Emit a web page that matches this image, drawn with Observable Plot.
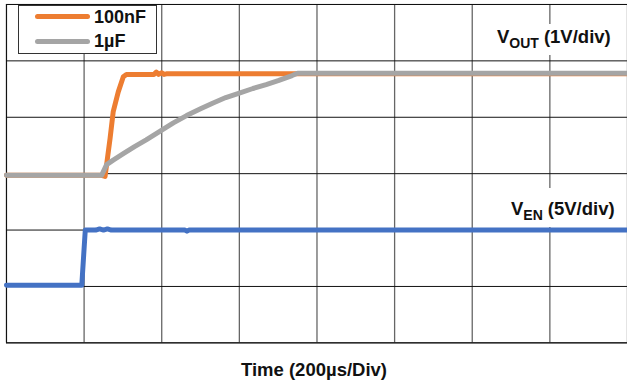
<!DOCTYPE html>
<html>
<head>
<meta charset="utf-8">
<script src="https://cdn.jsdelivr.net/npm/d3@7"></script>
<script src="https://cdn.jsdelivr.net/npm/@observablehq/plot@0.6"></script>
<style>
  html, body { margin: 0; padding: 0; background: #fff; overflow: hidden; }
  #wrap { position: relative; width: 627px; height: 385px; overflow: hidden; font-family: "Liberation Sans", Arial, sans-serif; font-weight: bold; color: #111; }
  #chart svg { display: block; }
  .ov { position: absolute; background: #fff; white-space: nowrap; line-height: 20px; font-size: 18.5px; }
  .sub { position: relative; top: 5px; font-size: 14px; margin-right: 5px; }
  #legend { position: absolute; left: 18px; top: 5px; width: 137px; height: 47px; border: 1px solid #333; background: #fff; }
  .lgline { position: absolute; left: 16px; width: 55px; height: 5px; border-radius: 2.5px; }
  .lgtext { position: absolute; left: 75px; font-size: 18px; line-height: 20px; }
  #xlabel { position: absolute; left: 0; width: 628px; top: 360px; text-align: center; font-size: 18.5px; line-height: 20px; }
</style>
</head>
<body>
<div id="wrap">
  <div id="chart"></div>
  <div id="legend"></div>
  <div class="ov" id="lblOut" style="left:494px; top:24px; height:28px; padding:3px 8px 0 3px;"></div>
  <div class="ov" id="lblEn" style="left:508px; top:188px; height:28px; padding:11px 10px 0 3px;"></div>
  <div id="xlabel"></div>
</div>
<script>
// Time axis: microseconds, 200 µs per division, 8 divisions
const xTicks = [0, 200, 400, 600, 800, 1000, 1200, 1400, 1600];
// Vertical: 6 divisions
const yTicks = [0, 1, 2, 3, 4, 5, 6];

// V_EN (5V/div), position in divisions
const enTime = [0, 194, 203, 230, 240, 250, 260, 270, 460, 465, 470, 1600];
const enDiv  = [1.02, 1.02, 2.0, 2.0, 2.02, 2.0, 2.02, 2.0, 2.0, 1.98, 2.0, 2.0];

// V_OUT with 100nF (1V/div)
const nfTime = [0, 245, 254, 258, 267, 275, 288, 301, 309, 380, 386, 392, 400, 406, 412, 1600];
const nfDiv  = [2.97, 2.97, 2.95, 3.16, 3.63, 4.10, 4.45, 4.72, 4.76, 4.76, 4.80, 4.76, 4.79, 4.76, 4.77, 4.77];

// V_OUT with 1µF (1V/div)
const ufTime = [0, 245, 258, 275, 300, 330, 360, 395, 430, 464, 500, 531, 565, 600, 635, 669, 700, 736, 750, 1600];
const ufDiv  = [2.97, 2.97, 3.16, 3.24, 3.35, 3.48, 3.60, 3.75, 3.90, 4.03, 4.15, 4.25, 4.35, 4.43, 4.51, 4.58, 4.65, 4.74, 4.78, 4.78];

const seriesNames = ["100nF", "1µF"];
const seriesColors = ["#ED7D31", "#A5A5A5"];
const enColor = "#4472C4";
const xTitle = "Time (200µs/Div)";

const toRows = (t, v) => t.map((d, i) => ({t: d, v: v[i]}));

const plot = Plot.plot({
  width: 630,
  height: 385,
  marginLeft: 6,
  marginRight: 0,
  marginTop: 4,
  marginBottom: 41,
  x: {domain: [0, 1600], axis: null},
  y: {domain: [0, 6], axis: null},
  marks: [
    Plot.ruleX(xTicks, {stroke: "#666", strokeWidth: 1.3}),
    Plot.ruleY(yTicks, {stroke: "#111", strokeWidth: 1}),
    Plot.frame({stroke: "#111", strokeWidth: 1}),
    Plot.line(toRows(enTime, enDiv), {x: "t", y: "v", stroke: enColor, strokeWidth: 5}),
    Plot.line(toRows(nfTime, nfDiv), {x: "t", y: "v", stroke: seriesColors[0], strokeWidth: 5}),
    Plot.line(toRows(ufTime, ufDiv), {x: "t", y: "v", stroke: seriesColors[1], strokeWidth: 5})
  ]
});
document.getElementById("chart").appendChild(plot);

// Legend
const legend = document.getElementById("legend");
const lineTops = [8.2, 33.2];
const textTops = [1.2, 24.9];
seriesNames.forEach((name, i) => {
  const l = document.createElement("div");
  l.className = "lgline";
  l.style.top = lineTops[i] + "px";
  l.style.background = seriesColors[i];
  legend.appendChild(l);
  const t = document.createElement("div");
  t.className = "lgtext";
  t.style.top = textTops[i] + "px";
  t.textContent = name;
  legend.appendChild(t);
});

document.getElementById("lblOut").innerHTML = 'V<span class="sub">OUT</span>(1V/div)';
document.getElementById("lblEn").innerHTML = 'V<span class="sub">EN</span>(5V/div)';
document.getElementById("xlabel").textContent = xTitle;
</script>
</body>
</html>
